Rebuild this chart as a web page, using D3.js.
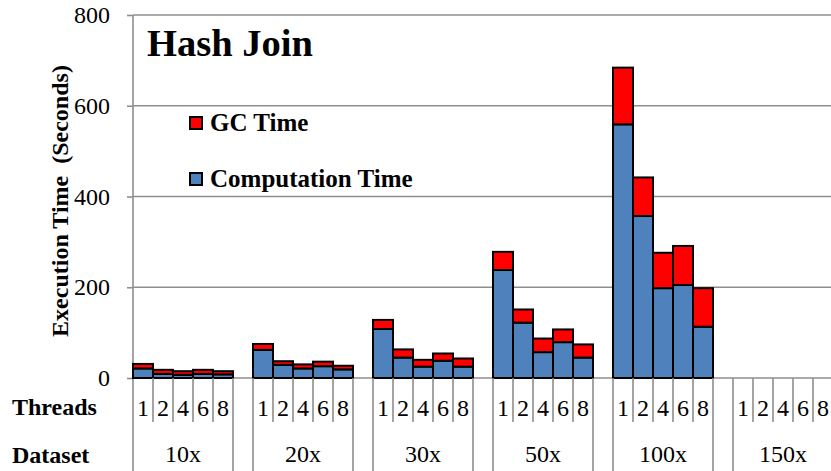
<!DOCTYPE html>
<html>
<head>
<meta charset="utf-8">
<script src="https://cdn.jsdelivr.net/npm/d3@7/dist/d3.min.js"></script>
<style>
  html, body { margin: 0; padding: 0; background: #fff; }
  svg { display: block; }
  svg text { font-family: "Liberation Serif"; fill: #000; }
</style>
</head>
<body>
<svg id="chart" width="831" height="471"></svg>
<script>
// Hash Join execution time, split into computation and GC time
const datasets = ["10x", "20x", "30x", "50x", "100x", "150x"];
const threads = ["1", "2", "4", "6", "8"];
const yTicks = [0, 200, 400, 600, 800];

// seconds per thread count, one row per dataset (150x has no runs)
const computationTime = [
  [21, 9, 7, 9, 8],
  [62, 29, 21, 26, 19],
  [108, 45, 25, 38, 25],
  [238, 122, 57, 79, 45],
  [559, 357, 198, 205, 113],
  []
];
const gcTime = [
  [10, 9, 8, 9, 7],
  [13, 8, 9, 10, 8],
  [20, 18, 15, 16, 18],
  [40, 29, 30, 28, 29],
  [125, 85, 78, 86, 85],
  []
];

const seriesKeys = ["comp", "gc"];
const seriesColor = { comp: "#4f81bd", gc: "#ff0000" };
const seriesLabel = { comp: "Computation Time", gc: "GC Time" };

const rows = [];
datasets.forEach((ds, i) => {
  (computationTime[i] || []).forEach((c, j) => {
    rows.push({ ds, th: threads[j], comp: c, gc: gcTime[i][j] });
  });
});

const svg = d3.select("#chart");
const x0 = 133, x1 = 853, yBase = 378, yTop = 15;
const gray = "#8e8e8e";

const xGroup = d3.scaleBand().domain(datasets).range([x0, x1]).padding(0);
// five thread slots plus one empty spacer slot per dataset
const xThread = d3.scaleBand().domain([...threads, "_gap"]).range([0, xGroup.bandwidth()]).padding(0);
const y = d3.scaleLinear().domain([0, 800]).range([yBase, yTop]);

// horizontal grid
svg.append("g")
  .selectAll("line")
  .data(yTicks)
  .join("line")
  .attr("x1", x0).attr("x2", 831)
  .attr("y1", d => y(d)).attr("y2", d => y(d))
  .attr("stroke", gray).attr("stroke-width", 1.6);

// y axis
const yAxis = svg.append("g")
  .attr("transform", `translate(${x0},0)`)
  .call(d3.axisLeft(y).tickValues(yTicks).tickSize(6).tickPadding(17));
yAxis.attr("font-family", null);
yAxis.select(".domain").remove();
yAxis.selectAll(".tick line").attr("stroke", gray).attr("stroke-width", 1.6);
yAxis.selectAll(".tick text")
  .attr("fill", "#000")
  .style("font-size", "24px");

svg.append("line")
  .attr("x1", x0).attr("x2", x0)
  .attr("y1", yTop).attr("y2", 471)
  .attr("stroke", gray).attr("stroke-width", 1.6);

// stacked bars
const stacked = d3.stack().keys(seriesKeys)(rows);
svg.append("g")
  .selectAll("g")
  .data(stacked)
  .join("g")
  .attr("fill", d => seriesColor[d.key])
  .selectAll("rect")
  .data(d => d)
  .join("rect")
  .attr("x", d => xGroup(d.data.ds) + xThread(d.data.th))
  .attr("width", xThread.bandwidth())
  .attr("y", d => y(d[1]))
  .attr("height", d => y(d[0]) - y(d[1]))
  .attr("stroke", "#000")
  .attr("stroke-width", 2);

// category axis: thread row and dataset row
const cat = svg.append("g");
datasets.forEach(ds => {
  const gx = xGroup(ds);
  // thread slot separators
  threads.forEach(th => {
    const sx = gx + xThread(th) + xThread.bandwidth();
    cat.append("line")
      .attr("x1", sx).attr("x2", sx)
      .attr("y1", yBase).attr("y2", th === "8" ? 471 : 422)
      .attr("stroke", gray).attr("stroke-width", 1.6);
    cat.append("text")
      .attr("x", gx + xThread(th) + xThread.bandwidth() / 2)
      .attr("y", 416)
      .attr("text-anchor", "middle")
      .style("font-size", "24px")
      .text(th);
  });
  const ex = gx + xGroup.bandwidth();
  cat.append("line")
    .attr("x1", ex).attr("x2", ex)
    .attr("y1", yBase).attr("y2", 471)
    .attr("stroke", gray).attr("stroke-width", 1.6);
  cat.append("text")
    .attr("x", gx + xThread("1") + (xThread.bandwidth() * threads.length) / 2)
    .attr("y", 462)
    .attr("text-anchor", "middle")
    .style("font-size", "24px")
    .text(ds);
});

cat.append("text").attr("x", 12).attr("y", 415)
  .style("font-size", "24px").style("font-weight", "bold").text("Threads");
cat.append("text").attr("x", 12).attr("y", 463)
  .style("font-size", "24px").style("font-weight", "bold").text("Dataset");

// axis title
svg.append("text")
  .attr("transform", `translate(68,${(62 + 340) / 2}) rotate(-90)`)
  .attr("text-anchor", "middle")
  .style("font-size", "24px").style("font-weight", "bold")
  .style("white-space", "pre")
  .text("Execution Time  (Seconds)");

// chart title
svg.append("text")
  .attr("x", 147).attr("y", 56)
  .style("font-size", "38.5px").style("font-weight", "bold")
  .text("Hash Join");

// legend
const legendRows = [{ key: "gc", y: 116 }, { key: "comp", y: 172 }];
const legend = svg.append("g");
legendRows.forEach(r => {
  legend.append("rect")
    .attr("x", 190).attr("y", r.y + 1)
    .attr("width", 12).attr("height", 12)
    .attr("fill", seriesColor[r.key])
    .attr("stroke", "#000").attr("stroke-width", 2);
  legend.append("text")
    .attr("x", 210).attr("y", r.y + 14.5)
    .style("font-size", "25px").style("font-weight", "bold")
    .text(seriesLabel[r.key]);
});
</script>
</body>
</html>
